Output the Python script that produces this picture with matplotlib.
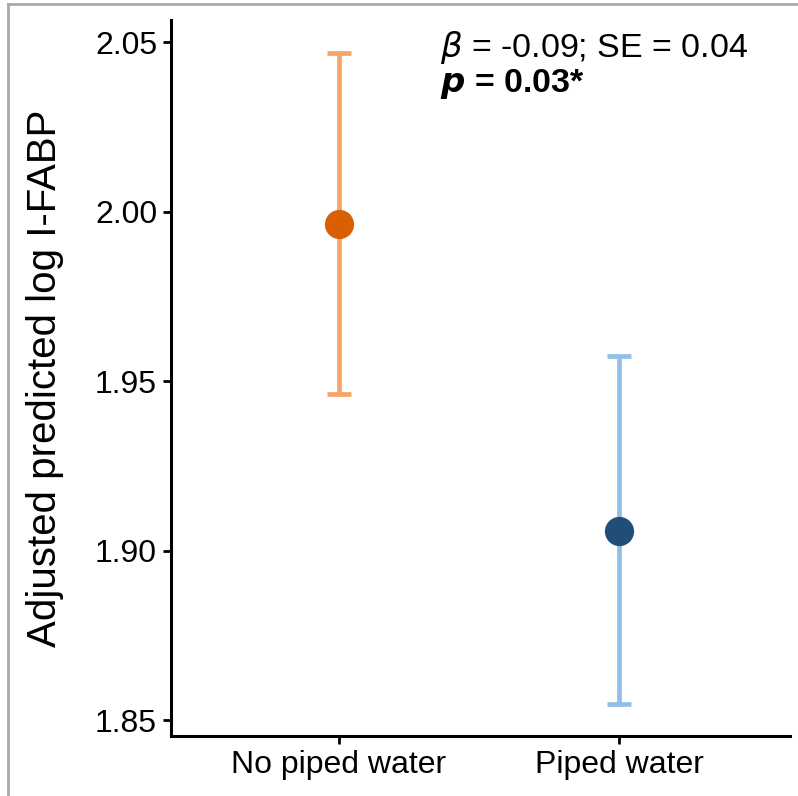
import matplotlib.pyplot as plt
from matplotlib.lines import Line2D

plt.rcParams['font.family'] = ['Liberation Sans', 'DejaVu Sans']

# Данные
groups = ['No piped water', 'Piped water']
estimates = [1.9962, 1.9059]
ci_low = [1.9462, 1.8547]
ci_high = [2.0468, 1.9574]
point_colors = ['#D95F02', '#1F4E79']
bar_colors = ['#F5A46A', '#92BEE8']
yticks = [1.85, 1.90, 1.95, 2.00, 2.05]

fig = plt.figure(figsize=(7.98, 7.96), dpi=100)
ax = fig.add_axes([171 / 798, 1 - 736 / 796, (790 - 171) / 798, (736 - 20) / 796])

for i, g in enumerate(groups):
    x = i + 1
    ax.errorbar(x, estimates[i],
                yerr=[[estimates[i] - ci_low[i]], [ci_high[i] - estimates[i]]],
                fmt='none', ecolor=bar_colors[i], elinewidth=3.4,
                capsize=8.5, capthick=3.4, zorder=2)
    ax.plot(x, estimates[i], 'o', color=point_colors[i], markersize=20, zorder=3)

ax.set_xlim(0.4, 2.61)
ax.set_ylim(1.8453, 2.0565)
ax.set_xticks([1, 2])
ax.set_xticklabels(groups)
ax.set_yticks(yticks)
ax.set_yticklabels([f'{v:.2f}' for v in yticks])
ax.set_ylabel('Adjusted predicted log I-FABP', fontsize=29, labelpad=22)
ax.tick_params(labelsize=23, width=2, length=6, color='black', pad=4)

for s in ['top', 'right']:
    ax.spines[s].set_visible(False)
for s in ['left', 'bottom']:
    ax.spines[s].set_linewidth(2.2)

ax.text(0.435, 0.948, r'$\beta$ = -0.09; SE = 0.04', transform=ax.transAxes,
        fontsize=24.5, va='baseline', ha='left')
ax.text(0.435, 0.90, r'$\boldsymbol{p}$ = 0.03*', transform=ax.transAxes,
        fontsize=24.5, va='baseline', ha='left', fontweight='bold')

# серая рамка
fig.add_artist(Line2D([8 / 798, 1], [1 - 4 / 796, 1 - 4 / 796], color='#AAAAAA', lw=2))
fig.add_artist(Line2D([8 / 798, 8 / 798], [0, 1 - 4 / 796], color='#AAAAAA', lw=2))

fig.savefig('out.png', dpi=100)
